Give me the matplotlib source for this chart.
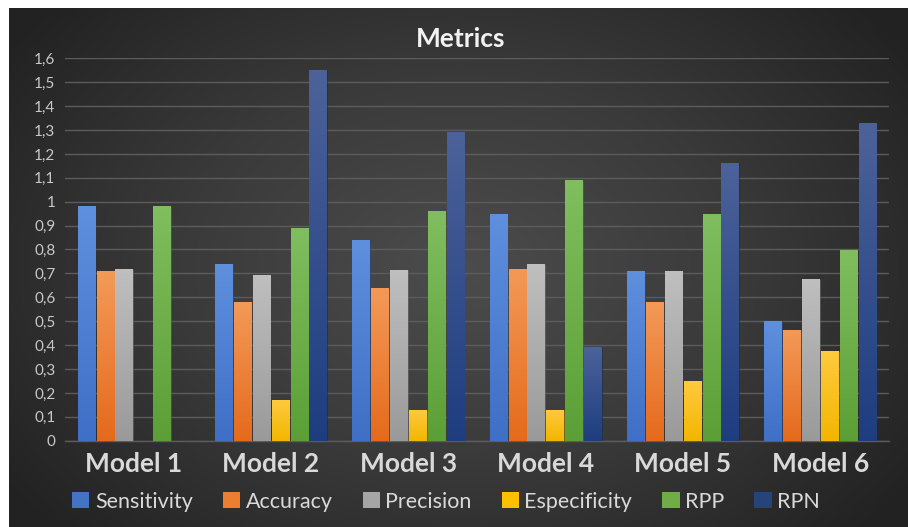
import numpy as np
import matplotlib
matplotlib.use("Agg")
import matplotlib.pyplot as plt
from matplotlib.colors import LinearSegmentedColormap
from matplotlib.patches import Patch
from matplotlib.ticker import FuncFormatter, MultipleLocator

plt.rcParams['font.family'] = ['Lato', 'DejaVu Sans']

models = ["Model 1", "Model 2", "Model 3", "Model 4", "Model 5", "Model 6"]
series_names = ["Sensitivity", "Accuracy", "Precision", "Especificity", "RPP", "RPN"]

sensitivity = [0.98, 0.74, 0.84, 0.95, 0.71, 0.50]
accuracy = [0.71, 0.58, 0.64, 0.72, 0.58, 0.465]
precision = [0.72, 0.695, 0.715, 0.74, 0.71, 0.675]
especificity = [0.0, 0.17, 0.13, 0.13, 0.25, 0.375]
rpp = [0.98, 0.89, 0.96, 1.09, 0.95, 0.80]
rpn = [0.0, 1.55, 1.29, 0.39, 1.16, 1.33]

series_values = [sensitivity, accuracy, precision, especificity, rpp, rpn]

# (top, bottom) gradient colours for each series
series_colors = [
    ("#5f90de", "#3f6fc6"),
    ("#f39a58", "#e56a1c"),
    ("#bfbfbf", "#9a9a9a"),
    ("#ffca3e", "#f2b600"),
    ("#80be5f", "#5b9f36"),
    ("#4c629a", "#1e3d7f"),
]
legend_colors = ["#4472c4", "#ed7d31", "#a5a5a5", "#ffc000", "#70ad47", "#264478"]

W, H = 908, 527
fig = plt.figure(figsize=(W / 100, H / 100), dpi=100, facecolor="white")

# dark radial background panel
bg = fig.add_axes([9 / W, 0, 1 - 9 / W, 1 - 8 / H])
bg.set_axis_off()
yy, xx = np.mgrid[0:1:300j, 0:1:520j]
r = np.sqrt(((xx - 0.5) / 0.62) ** 2 + ((yy - 0.5) / 0.75) ** 2)
r = np.clip(r, 0, 1)
bg_cmap = LinearSegmentedColormap.from_list("bg", ["#4c4c4c", "#3a3a3a", "#222222"])
bg.imshow(r, cmap=bg_cmap, aspect="auto", extent=[0, 1, 0, 1], vmin=0, vmax=1)
bg.set_xlim(0, 1)
bg.set_ylim(0, 1)

ax = fig.add_axes([65 / W, (H - 440.7) / H, 824 / W, (440.7 - 58.3) / H])
ax.patch.set_alpha(0)

n = len(series_names)
group_w = 0.826
pitch = group_w / n
bar_w = pitch * 0.93
x = np.arange(len(models))

grad = np.linspace(1, 0, 256).reshape(-1, 1)
for i, (vals, (ctop, cbot)) in enumerate(zip(series_values, series_colors)):
    offs = x - group_w / 2 + pitch * (i + 0.5)
    cmap = LinearSegmentedColormap.from_list(f"s{i}", [cbot, ctop])
    bars = ax.bar(offs, vals, width=bar_w, color=legend_colors[i],
                  edgecolor=(0, 0, 0, 0.25), linewidth=0.6, zorder=3)
    for b in bars:
        h = b.get_height()
        if h <= 0:
            continue
        bx = b.get_x()
        im = ax.imshow(grad, cmap=cmap, aspect="auto", vmin=0, vmax=1,
                       extent=[bx, bx + b.get_width(), 0, h], zorder=3.5)
        im.set_clip_path(b)

ax.set_xlim(-0.5, len(models) - 0.5)
ax.set_ylim(0, 1.6)

ax.yaxis.set_major_locator(MultipleLocator(0.1))
ax.yaxis.set_major_formatter(FuncFormatter(
    lambda v, p: f"{v:.1f}".rstrip("0").rstrip(".").replace(".", ",") if v else "0"))
ax.grid(axis="y", color="#5c5c5c", linewidth=1.0, zorder=0)
ax.set_axisbelow(True)
for s in ["top", "right", "left"]:
    ax.spines[s].set_visible(False)
ax.spines["bottom"].set_color("#5c5c5c")
ax.spines["bottom"].set_linewidth(1.0)

ax.tick_params(axis="y", length=0, labelsize=11, labelcolor="#c8c8c8", pad=7)
ax.set_xticks(x)
ax.set_xticklabels(models, fontsize=19, fontweight="bold", color="#d9d9d9")
ax.tick_params(axis="x", length=0, pad=8)

fig.text(461 / W, 1 - 39 / H, "Metrics", ha="center", va="center",
         fontsize=19, fontweight="bold", color="#f2f2f2")

handles = [Patch(facecolor=c, edgecolor="none") for c in legend_colors]
leg = fig.legend(handles, series_names, loc="center", ncol=6,
                 bbox_to_anchor=(446 / W, 1 - 501.5 / H), frameon=False,
                 fontsize=15.5, handlelength=0.8, handleheight=0.8,
                 handletextpad=0.25, columnspacing=1.4, labelcolor="#d9d9d9")

fig.savefig("out.png", dpi=100, facecolor="white")
